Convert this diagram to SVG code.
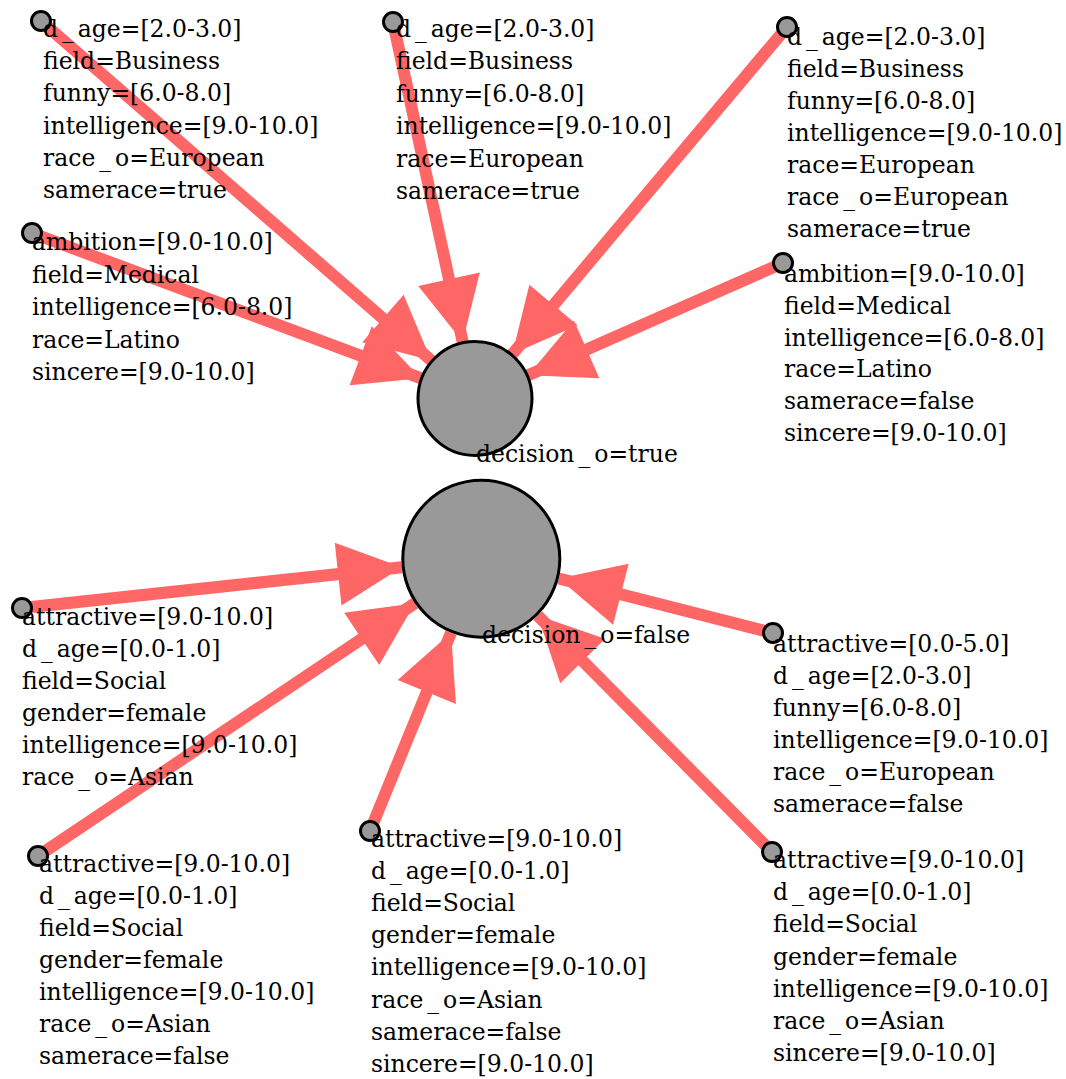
<svg xmlns="http://www.w3.org/2000/svg" width="1066" height="1079" viewBox="0 0 1066 1079">
<style>
.e{stroke:#ff6666;stroke-width:12;fill:none;stroke-linecap:butt}
.h{fill:#ff6666;stroke:none}
.s{fill:#999999;stroke:#000;stroke-width:3}
.b{fill:#999999;stroke:#000;stroke-width:3}
text{font-family:"DejaVu Serif","Liberation Serif",serif;font-size:23.5px;fill:#000}
</style>
<rect width="1066" height="1079" fill="#fff"/>
<g id="edges">
<line class="e" x1="41" y1="21" x2="431.24" y2="360.43"/>
<polygon class="h" points="362.28,342.20 431.24,360.43 403.62,294.66"/>
<line class="e" x1="32" y1="233" x2="420.67" y2="378.20"/>
<polygon class="h" points="349.68,385.31 420.67,378.20 371.74,326.29"/>
<line class="e" x1="393" y1="22" x2="462.66" y2="341.83"/>
<polygon class="h" points="418.26,286.0 462.66,341.83 479.82,272.6"/>
<line class="e" x1="787" y1="27" x2="512.31" y2="354.08"/>
<polygon class="h" points="529.35,284.81 512.31,354.08 577.59,325.33"/>
<line class="e" x1="783" y1="263" x2="528.09" y2="375.14"/>
<polygon class="h" points="573.98,320.54 528.09,375.14 599.36,378.2"/>
<line class="e" x1="22" y1="608" x2="401.76" y2="567.24"/>
<polygon class="h" points="341.48,605.39 401.76,567.24 334.76,542.75"/>
<line class="e" x1="38" y1="856" x2="414.86" y2="603.26"/>
<polygon class="h" points="379.26,665.07 414.86,603.26 344.16,612.75"/>
<line class="e" x1="370" y1="831" x2="451.04" y2="632.75"/>
<polygon class="h" points="455.99,703.91 451.04,632.75 397.67,680.07"/>
<line class="e" x1="773" y1="633" x2="558.83" y2="578.44"/>
<polygon class="h" points="628.62,563.71 558.83,578.44 613.08,624.77"/>
<line class="e" x1="772" y1="852" x2="537.61" y2="615.52"/>
<polygon class="h" points="605.03,638.8 537.61,615.52 560.29,683.14"/>
</g>
<g id="n1">
<circle class="s" cx="41" cy="21" r="9.5"/>
<text y="37"><tspan x="43">d</tspan><tspan dx="4">_</tspan><tspan dx="4">age=[2.0-3.0]</tspan><tspan x="43" dy="32.2">field=Business</tspan><tspan x="43" dy="32.2">funny=[6.0-8.0]</tspan><tspan x="43" dy="32.2">intelligence=[9.0-10.0]</tspan><tspan x="43" dy="32.2">race</tspan><tspan dx="4">_</tspan><tspan dx="4">o=European</tspan><tspan x="43" dy="32.2">samerace=true</tspan></text>
</g>
<g id="n2">
<circle class="s" cx="32" cy="233" r="9.5"/>
<text x="32" y="250">ambition=[9.0-10.0]<tspan x="32" dy="32.5">field=Medical</tspan><tspan x="32" dy="32.5">intelligence=[6.0-8.0]</tspan><tspan x="32" dy="32.5">race=Latino</tspan><tspan x="32" dy="32.5">sincere=[9.0-10.0]</tspan></text>
</g>
<g id="n3">
<circle class="s" cx="393" cy="22" r="9.5"/>
<text y="37"><tspan x="396">d</tspan><tspan dx="4">_</tspan><tspan dx="4">age=[2.0-3.0]</tspan><tspan x="396" dy="32.4">field=Business</tspan><tspan x="396" dy="32.4">funny=[6.0-8.0]</tspan><tspan x="396" dy="32.4">intelligence=[9.0-10.0]</tspan><tspan x="396" dy="32.4">race=European</tspan><tspan x="396" dy="32.4">samerace=true</tspan></text>
</g>
<g id="n4">
<circle class="s" cx="787" cy="27" r="9.5"/>
<text y="45"><tspan x="787">d</tspan><tspan dx="4">_</tspan><tspan dx="4">age=[2.0-3.0]</tspan><tspan x="787" dy="32">field=Business</tspan><tspan x="787" dy="32">funny=[6.0-8.0]</tspan><tspan x="787" dy="32">intelligence=[9.0-10.0]</tspan><tspan x="787" dy="32">race=European</tspan><tspan x="787" dy="32">race</tspan><tspan dx="4">_</tspan><tspan dx="4">o=European</tspan><tspan x="787" dy="32">samerace=true</tspan></text>
</g>
<g id="n5">
<circle class="s" cx="783" cy="263" r="9.5"/>
<text x="784" y="282">ambition=[9.0-10.0]<tspan x="784" dy="31.8">field=Medical</tspan><tspan x="784" dy="31.8">intelligence=[6.0-8.0]</tspan><tspan x="784" dy="31.8">race=Latino</tspan><tspan x="784" dy="31.8">samerace=false</tspan><tspan x="784" dy="31.8">sincere=[9.0-10.0]</tspan></text>
</g>
<g id="n6">
<circle class="s" cx="22" cy="608" r="9.5"/>
<text y="625"><tspan x="22">attractive=[9.0-10.0]</tspan><tspan x="22" dy="32">d</tspan><tspan dx="4">_</tspan><tspan dx="4">age=[0.0-1.0]</tspan><tspan x="22" dy="32">field=Social</tspan><tspan x="22" dy="32">gender=female</tspan><tspan x="22" dy="32">intelligence=[9.0-10.0]</tspan><tspan x="22" dy="32">race</tspan><tspan dx="4">_</tspan><tspan dx="4">o=Asian</tspan></text>
</g>
<g id="n7">
<circle class="s" cx="38" cy="856" r="9.5"/>
<text y="872"><tspan x="39">attractive=[9.0-10.0]</tspan><tspan x="39" dy="32">d</tspan><tspan dx="4">_</tspan><tspan dx="4">age=[0.0-1.0]</tspan><tspan x="39" dy="32">field=Social</tspan><tspan x="39" dy="32">gender=female</tspan><tspan x="39" dy="32">intelligence=[9.0-10.0]</tspan><tspan x="39" dy="32">race</tspan><tspan dx="4">_</tspan><tspan dx="4">o=Asian</tspan><tspan x="39" dy="32">samerace=false</tspan></text>
</g>
<g id="n8">
<circle class="s" cx="370" cy="831" r="9.5"/>
<text y="847"><tspan x="371">attractive=[9.0-10.0]</tspan><tspan x="371" dy="32.1">d</tspan><tspan dx="4">_</tspan><tspan dx="4">age=[0.0-1.0]</tspan><tspan x="371" dy="32.1">field=Social</tspan><tspan x="371" dy="32.1">gender=female</tspan><tspan x="371" dy="32.1">intelligence=[9.0-10.0]</tspan><tspan x="371" dy="32.1">race</tspan><tspan dx="4">_</tspan><tspan dx="4">o=Asian</tspan><tspan x="371" dy="32.1">samerace=false</tspan><tspan x="371" dy="32.1">sincere=[9.0-10.0]</tspan></text>
</g>
<g id="n9">
<circle class="s" cx="773" cy="633" r="9.5"/>
<text y="652"><tspan x="773">attractive=[0.0-5.0]</tspan><tspan x="773" dy="32">d</tspan><tspan dx="4">_</tspan><tspan dx="4">age=[2.0-3.0]</tspan><tspan x="773" dy="32">funny=[6.0-8.0]</tspan><tspan x="773" dy="32">intelligence=[9.0-10.0]</tspan><tspan x="773" dy="32">race</tspan><tspan dx="4">_</tspan><tspan dx="4">o=European</tspan><tspan x="773" dy="32">samerace=false</tspan></text>
</g>
<g id="n10">
<circle class="s" cx="772" cy="852" r="9.5"/>
<text y="868"><tspan x="773">attractive=[9.0-10.0]</tspan><tspan x="773" dy="32.2">d</tspan><tspan dx="4">_</tspan><tspan dx="4">age=[0.0-1.0]</tspan><tspan x="773" dy="32.2">field=Social</tspan><tspan x="773" dy="32.2">gender=female</tspan><tspan x="773" dy="32.2">intelligence=[9.0-10.0]</tspan><tspan x="773" dy="32.2">race</tspan><tspan dx="4">_</tspan><tspan dx="4">o=Asian</tspan><tspan x="773" dy="32.2">sincere=[9.0-10.0]</tspan></text>
</g>
<g id="true">
<circle class="b" cx="475" cy="398.5" r="57"/>
<text y="462"><tspan x="476">decision</tspan><tspan dx="4">_</tspan><tspan dx="4">o=true</tspan></text>
</g>
<g id="false">
<circle class="b" cx="481.3" cy="558.7" r="78.5"/>
<text y="643"><tspan x="482">decision</tspan><tspan dx="4">_</tspan><tspan dx="4">o=false</tspan></text>
</g>
</svg>
